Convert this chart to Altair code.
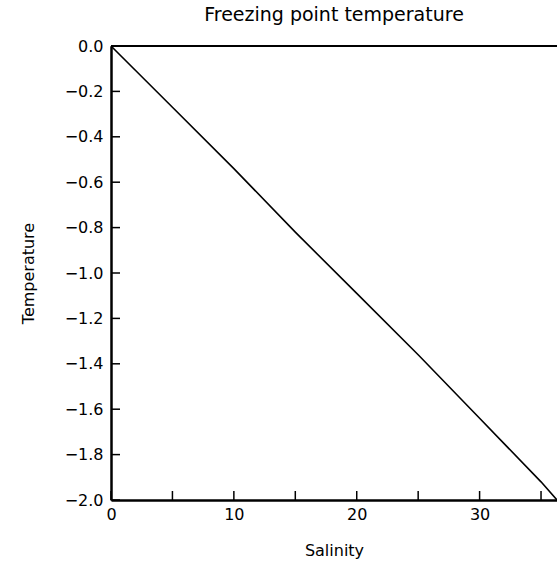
import altair as alt
import pandas as pd

# Data
salinity = [0, 5, 10, 15, 20, 25, 30, 35, 36.3]
temperature = [0.0, -0.27, -0.54, -0.82, -1.09, -1.36, -1.64, -1.92, -2.0]

y_ticks = [0.0, -0.2, -0.4, -0.6, -0.8, -1.0, -1.2, -1.4, -1.6, -1.8, -2.0]
x_ticks = [0, 5, 10, 15, 20, 25, 30, 35]
x_labels = [0, 10, 20, 30]

W, H = 446, 454
FONT = "DejaVu Sans"

line_df = pd.DataFrame({"Salinity": salinity, "Temperature": temperature})
yt_df = pd.DataFrame({"t": y_ticks})
xt_df = pd.DataFrame({"s": x_ticks})

xscale = alt.Scale(domain=[0, 36.3], nice=False, zero=False)
yscale = alt.Scale(domain=[-2.0, 0.0], nice=False, zero=False)

line = alt.Chart(line_df).mark_line(color="black", strokeWidth=1.6).encode(
    x=alt.X("Salinity:Q", scale=xscale,
            axis=alt.Axis(values=x_labels, format="d", ticks=False, grid=False,
                          domainColor="black", domainWidth=2.5,
                          labelPadding=6, labelFlush=False, title="Salinity",
                          titleX=223, titleY=50, titleBaseline="middle",
                          titleAlign="center")),
    y=alt.Y("Temperature:Q", scale=yscale,
            axis=alt.Axis(values=y_ticks, format=".1f", ticks=False, grid=False,
                          domainColor="black", domainWidth=2.5,
                          labelPadding=8, labelFlush=False, title="Temperature",
                          titleAngle=270, titleX=-83, titleY=227,
                          titleBaseline="middle", titleAlign="center")),
)

yticks = alt.Chart(yt_df).mark_rule(color="black", strokeWidth=1.5).encode(
    y=alt.Y("t:Q", scale=yscale),
    x=alt.value(0),
    x2=alt.value(9),
)

xticks = alt.Chart(xt_df).mark_rule(color="black", strokeWidth=1.5).encode(
    x=alt.X("s:Q", scale=xscale),
    y=alt.value(H),
    y2=alt.value(H - 9),
)

top = alt.Chart(line_df).mark_rule(color="black", strokeWidth=1.5).encode(
    x=alt.value(0),
    x2=alt.value(W + 2),
    y=alt.value(0),
)

chart = alt.layer(line, yticks, xticks, top).properties(
    width=W,
    height=H,
    background="white",
    title=alt.TitleParams("Freezing point temperature", font=FONT, fontSize=19,
                          fontWeight="normal", anchor="middle", offset=13,
                          color="black"),
    autosize=alt.AutoSizeParams(type="none"),
    padding={"left": 111, "top": 46, "right": 0, "bottom": 67},
).configure_view(stroke=None).configure_axis(
    labelFont=FONT, labelFontSize=16, labelColor="black",
    titleFont=FONT, titleFontSize=16, titleFontWeight="normal", titleColor="black",
)

chart.save("out.html", embed_options={"renderer": "svg", "actions": False})
